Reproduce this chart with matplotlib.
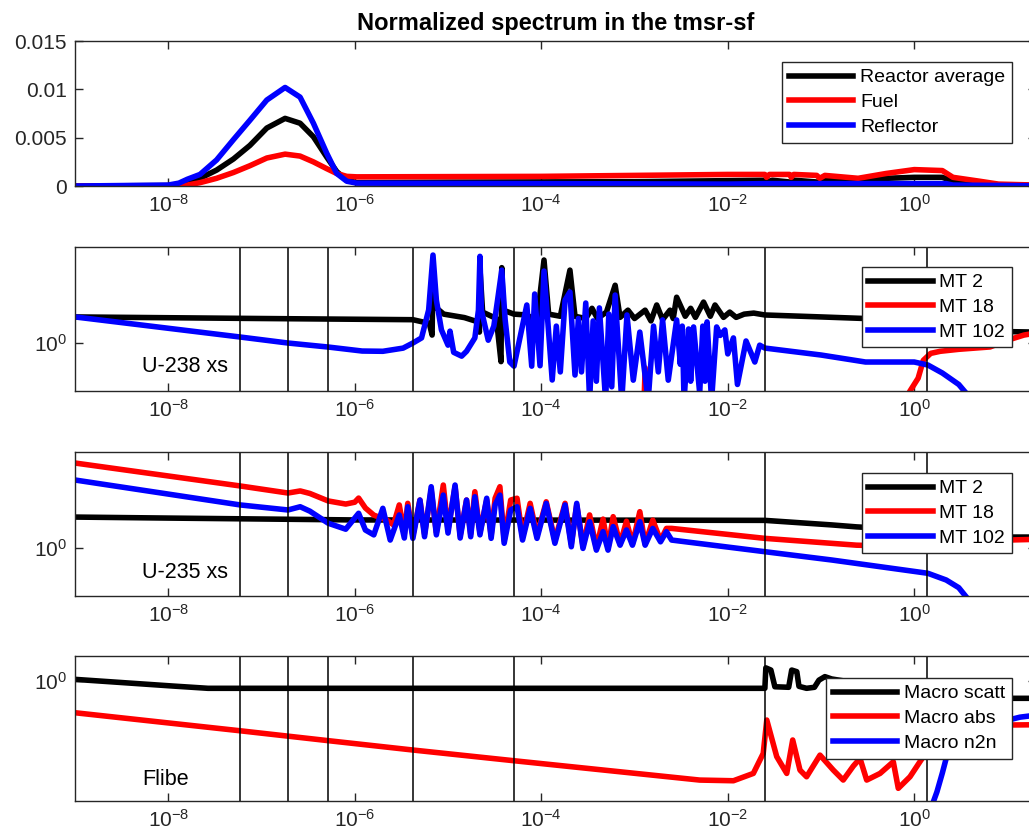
import matplotlib
matplotlib.use("Agg")
import matplotlib.pyplot as plt
from matplotlib.ticker import FixedLocator, FixedFormatter, NullLocator

plt.rcParams['font.family'] = ['Liberation Sans', 'DejaVu Sans']
plt.rcParams['mathtext.fontset'] = 'custom'
plt.rcParams['mathtext.rm'] = 'Liberation Sans'
plt.rcParams['mathtext.it'] = 'Liberation Sans:italic'
plt.rcParams['mathtext.bf'] = 'Liberation Sans:bold'

# ---- data: (energy [MeV], value) ----
# normalized spectrum
spec_avg = [(1e-9, 0), (1e-8, 0.00005), (1.6e-8, 0.0002), (2.19e-8, 0.0008), (3.3e-8, 0.00165),
            (5.0e-8, 0.0028), (7.5e-8, 0.0042), (1.14e-7, 0.0060), (1.79e-7, 0.0070), (2.59e-7, 0.0065),
            (3.6e-7, 0.0051), (5.0e-7, 0.0030), (6.4e-7, 0.0015), (8.2e-7, 0.0006), (1.05e-6, 0.00035),
            (1e-5, 0.0004), (1e-3, 0.00045), (0.025, 0.0006), (0.026, 0.0004), (0.03, 0.0006),
            (0.048, 0.0004), (0.052, 0.0006), (0.095, 0.0004), (0.11, 0.0006), (0.25, 0.0004),
            (0.5, 0.0008), (1.0, 0.0009), (2.0, 0.0009), (2.6, 0.0005), (5, 0.0002), (10, 0.0001),
            (20, 0.00005)]
spec_fuel = [(1e-9, 0), (1e-8, 0.00003), (1.6e-8, 0.0001), (2.19e-8, 0.00035), (3.3e-8, 0.0008),
             (5.0e-8, 0.0014), (7.5e-8, 0.0021), (1.14e-7, 0.0029), (1.79e-7, 0.0033), (2.59e-7, 0.0031),
             (3.6e-7, 0.0025), (5.0e-7, 0.0018), (6.4e-7, 0.0013), (8.2e-7, 0.0010), (1.05e-6, 0.00095),
             (1e-4, 0.001), (1e-2, 0.0012), (0.025, 0.0012), (0.026, 0.0009), (0.028, 0.0012),
             (0.046, 0.0012), (0.048, 0.0009), (0.051, 0.0012), (0.09, 0.0011), (0.097, 0.0008),
             (0.11, 0.0011), (0.25, 0.0008), (0.5, 0.0013), (1.0, 0.0017), (2.0, 0.0016), (2.6, 0.0009),
             (5, 0.0005), (8, 0.0002), (20, 0.0001)]
spec_refl = [(1e-9, 0), (1e-8, 0.0001), (1.3e-8, 0.0003), (1.6e-8, 0.0007), (2.19e-8, 0.0012),
             (3.3e-8, 0.0027), (5.0e-8, 0.0048), (7.5e-8, 0.0068), (1.14e-7, 0.0089), (1.79e-7, 0.0102),
             (2.59e-7, 0.0092), (3.6e-7, 0.0065), (5.0e-7, 0.0034), (6.4e-7, 0.0013), (8.2e-7, 0.0005),
             (1.05e-6, 0.0003), (1e-2, 0.0002), (0.025, 0.00025), (2.2, 0.00025), (2.6, 0.0001),
             (20, 0.00003)]

# U-238
u238_mt2 = [(1e-9, 1.87), (1e-7, 1.80), (4.2e-6, 1.75), (6.3e-6, 1.60), (6.75e-6, 1.21), (6.9e-6, 6.0),
            (7.2e-6, 2.4), (9e-6, 2.0), (1.5e-5, 1.84), (2.1e-5, 1.66), (2.17e-5, 1.30), (2.2e-5, 6.0),
            (2.35e-5, 2.1), (3.3e-5, 1.8), (3.7e-5, 0.64), (3.77e-5, 6.1), (3.9e-5, 2.2), (5.1e-5, 2.0),
            (7.0e-5, 1.96), (9.0e-5, 1.7), (1.07e-4, 7.33), (1.2e-4, 2.0), (1.6e-4, 1.9), (2.03e-4, 5.75),
            (2.3e-4, 1.9), (3.0e-4, 1.8), (3.5e-4, 2.3), (4.0e-4, 1.8), (5.0e-4, 2.1), (6.2e-4, 4.0),
            (7.0e-4, 1.85), (8.5e-4, 2.2), (1.0e-3, 1.8), (1.3e-3, 2.2), (1.5e-3, 1.7), (1.73e-3, 2.49),
            (2.0e-3, 1.75), (2.4e-3, 2.2), (2.6e-3, 1.8), (2.83e-3, 3.0), (3.5e-3, 1.9), (4.0e-3, 2.3),
            (4.5e-3, 1.85), (5.5e-3, 2.67), (6.5e-3, 1.9), (7.3e-3, 2.49), (9.0e-3, 1.85), (1.05e-2, 2.1),
            (1.23e-2, 1.85), (1.5e-2, 2.0), (1.9e-2, 2.05), (2.5e-2, 1.96), (0.1, 1.87), (0.3, 1.80),
            (1.0, 1.70), (2.0, 1.50), (5.0, 1.33), (20, 1.30)]
u238_mt18 = [(1e-9, 0.05), (1.2e-3, 0.05), (1.3e-3, 0.55), (1.4e-3, 0.05), (0.7, 0.2), (0.9, 0.316),
             (1.1, 0.43), (1.25, 0.66), (1.5, 0.78), (1.9, 0.82), (3.0, 0.86), (6.5, 0.91), (10, 1.07),
             (15, 1.21), (20, 1.27)]
u238_mt102 = [(1e-9, 1.87), (5.9e-8, 1.155), (1.92e-7, 1.0), (5.2e-7, 0.908), (1.2e-6, 0.825),
              (2.0e-6, 0.82), (3.3e-6, 0.885), (4.2e-6, 1.0), (5.2e-6, 1.13), (6.2e-6, 2.21),
              (6.9e-6, 8.25), (7.5e-6, 2.8), (8.5e-6, 1.37), (1.0e-5, 0.95), (1.05e-5, 1.33),
              (1.15e-5, 0.8), (1.4e-5, 0.73), (1.58e-5, 0.82), (1.94e-5, 1.13), (2.12e-5, 2.2),
              (2.2e-5, 8.0), (2.28e-5, 2.2), (2.7e-5, 1.07), (3.1e-5, 1.5), (3.4e-5, 2.8), (3.77e-5, 5.75),
              (4.1e-5, 1.74), (4.6e-5, 0.634), (5.1e-5, 0.574), (7.0e-5, 2.49), (7.9e-5, 0.574),
              (8.5e-5, 3.24), (9.7e-5, 0.58), (1.07e-4, 5.62), (1.31e-4, 0.412), (1.45e-4, 1.5),
              (1.6e-4, 0.5), (1.8e-4, 2.8), (2.03e-4, 3.40), (2.3e-4, 0.464), (2.5e-4, 1.8), (2.7e-4, 0.5),
              (3.0e-4, 2.61), (3.3e-4, 0.25), (3.6e-4, 1.7), (3.9e-4, 0.4), (4.2e-4, 2.32), (4.9e-4, 0.25),
              (5.3e-4, 2.0), (5.7e-4, 0.35), (6.2e-4, 3.16), (7.3e-4, 0.25), (8.3e-4, 1.96), (9.7e-4, 0.41),
              (1.14e-3, 1.30), (1.4e-3, 0.25), (1.6e-3, 1.5), (1.8e-3, 0.5), (2.0e-3, 1.74), (2.3e-3, 0.41),
              (2.83e-3, 1.74), (3.1e-3, 0.6), (3.25e-3, 1.5), (3.4e-3, 0.25), (3.8e-3, 1.4), (4.0e-3, 0.4),
              (4.3e-3, 1.47), (5.0e-3, 0.3), (5.4e-3, 1.5), (5.7e-3, 0.4), (6.0e-3, 1.66), (6.7e-3, 0.25),
              (7.6e-3, 1.47), (8.3e-3, 1.2), (9.3e-3, 1.37), (1.0e-2, 0.77), (1.15e-2, 1.13),
              (1.27e-2, 0.37), (1.57e-2, 1.05), (1.95e-2, 0.634), (2.2e-2, 0.95), (2.5e-2, 0.886),
              (0.1, 0.75), (0.3, 0.634), (1.0, 0.634), (1.4, 0.59), (2.0, 0.487), (3.0, 0.37), (3.5, 0.31)]

# U-235
u235_mt2 = [(1e-9, 2.10), (1e-8, 2.05), (1e-6, 1.96), (1e-3, 1.95), (0.025, 1.94), (0.13, 1.74),
            (0.24, 1.66), (1.0, 1.54), (3.0, 1.42), (10, 1.30), (20, 1.30)]
u235_mt18 = [(1e-9, 7.68), (5.9e-8, 4.43), (1.92e-7, 3.74), (2.6e-7, 3.93), (3.3e-7, 3.7), (5.2e-7, 3.09),
             (8.0e-7, 2.87), (1.0e-6, 3.0), (1.1e-6, 3.31), (1.3e-6, 2.61), (1.6e-6, 2.2), (2.2e-6, 1.96),
             (2.6e-6, 1.74), (3.0e-6, 2.81), (3.4e-6, 1.4), (3.7e-6, 2.92), (4.2e-6, 1.35), (5.0e-6, 3.16),
             (5.6e-6, 1.4), (6.6e-6, 4.0), (7.5e-6, 1.45), (8.9e-6, 4.53), (1.0e-5, 1.55), (1.19e-5, 4.35),
             (1.35e-5, 1.35), (1.58e-5, 3.16), (1.75e-5, 1.4), (1.94e-5, 3.86), (2.2e-5, 1.45),
             (2.6e-5, 3.16), (2.9e-5, 1.35), (3.2e-5, 3.3), (3.6e-5, 4.35), (4.0e-5, 1.2), (4.7e-5, 3.16),
             (5.5e-5, 3.30), (6.3e-5, 1.3), (7.6e-5, 2.92), (9.0e-5, 1.35), (1.13e-4, 3.03), (1.4e-4, 1.2),
             (1.8e-4, 2.92), (2.1e-4, 1.1), (2.4e-4, 2.81), (2.8e-4, 1.05), (3.3e-4, 2.21), (3.9e-4, 1.0),
             (4.6e-4, 2.0), (5.2e-4, 1.0), (5.9e-4, 2.12), (7.0e-4, 1.1), (8.2e-4, 1.9), (9.5e-4, 1.1),
             (1.14e-3, 2.39), (1.3e-3, 1.1), (1.57e-3, 1.95), (1.9e-3, 1.2), (2.2e-3, 1.6), (2.5e-3, 1.60),
             (0.025, 1.26), (0.24, 1.07), (1.0, 1.03), (3.0, 1.12), (10, 1.21), (20, 1.23)]
u235_mt102 = [(1e-9, 5.11), (5.9e-8, 2.81), (1.92e-7, 2.49), (2.6e-7, 2.69), (3.3e-7, 2.42), (5.2e-7, 1.81),
              (8.0e-7, 1.57), (1.1e-6, 2.30), (1.3e-6, 1.54), (1.6e-6, 1.37), (2.0e-6, 2.59), (2.4e-6, 1.21),
              (3.0e-6, 2.21), (3.4e-6, 1.27), (3.7e-6, 2.69), (4.2e-6, 1.26), (5.0e-6, 3.16), (5.6e-6, 1.31),
              (6.6e-6, 4.35), (7.5e-6, 1.37), (8.9e-6, 3.56), (1.0e-5, 1.43), (1.19e-5, 4.53),
              (1.35e-5, 1.27), (1.58e-5, 3.16), (1.75e-5, 1.31), (1.94e-5, 3.42), (2.2e-5, 1.37),
              (2.6e-5, 3.30), (2.9e-5, 1.26), (3.2e-5, 2.81), (3.6e-5, 3.56), (4.0e-5, 1.12), (4.7e-5, 2.49),
              (5.5e-5, 2.69), (6.3e-5, 1.21), (7.6e-5, 2.59), (9.0e-5, 1.26), (1.13e-4, 2.92), (1.4e-4, 1.12),
              (1.8e-4, 2.81), (2.1e-4, 1.03), (2.4e-4, 2.92), (2.8e-4, 0.99), (3.3e-4, 1.88), (3.9e-4, 0.95),
              (4.6e-4, 1.48), (5.2e-4, 0.95), (5.9e-4, 1.67), (7.0e-4, 1.07), (8.2e-4, 1.54), (9.5e-4, 1.07),
              (1.14e-3, 1.88), (1.3e-3, 1.07), (1.57e-3, 1.60), (1.9e-3, 1.16), (2.2e-3, 1.48),
              (2.5e-3, 1.21), (0.025, 0.915), (0.13, 0.75), (1.4, 0.545), (2.2, 0.464), (3.0, 0.386),
              (3.6, 0.31)]

# Flibe
flibe_scatt = [(1e-9, 1.04), (1.12e-8, 0.886), (2.67e-8, 0.839), (0.0250, 0.839), (0.0256, 1.37),
               (0.0290, 1.30), (0.0320, 0.871), (0.045, 0.86), (0.0485, 1.30), (0.055, 1.25), (0.058, 0.88),
               (0.070, 0.839), (0.085, 0.86), (0.095, 1.02), (0.11, 1.11), (0.13, 1.05), (0.5, 0.85),
               (1.0, 0.78), (2.0, 0.70), (5.0, 0.66), (20, 0.66)]
flibe_abs = [(1e-9, 0.467), (5.9e-8, 0.303), (5.2e-7, 0.239), (4.2e-6, 0.191), (5e-5, 0.148),
             (5.0e-3, 0.0929), (1.15e-2, 0.0914), (1.88e-2, 0.109), (0.024, 0.176), (0.0262, 0.392),
             (0.0335, 0.163), (0.0429, 0.109), (0.0497, 0.243), (0.0595, 0.118), (0.070, 0.1006),
             (0.0975, 0.169), (0.1355, 0.118), (0.173, 0.0929), (0.222, 0.13), (0.262, 0.156),
             (0.309, 0.0929), (0.43, 0.109), (0.596, 0.144), (0.674, 0.0762), (0.90, 0.1006),
             (1.25, 0.163), (1.6, 0.22), (3.0, 0.30), (10, 0.348), (20, 0.35)]
flibe_n2n = [(1.5, 0.01), (1.60, 0.055), (1.75, 0.07), (2.0, 0.11), (2.25, 0.17), (3.0, 0.25),
             (5.0, 0.32), (10, 0.39), (13.6, 0.42), (20, 0.44)]

group_bounds = [5.9e-8, 1.92e-7, 5.2e-7, 4.2e-6, 5.1e-5, 0.0251, 1.37]

xticks = [1e-8, 1e-6, 1e-4, 1e-2, 1e0]
xlabels = [r'$\mathregular{10^{-8}}$', r'$\mathregular{10^{-6}}$', r'$\mathregular{10^{-4}}$',
           r'$\mathregular{10^{-2}}$', r'$\mathregular{10^{0}}$']

DARK = '#262626'
LW = 4.0

fig = plt.figure(figsize=(10.29, 8.38), dpi=100)

# axes go a little past the right edge, like the cropped original
left, width = 0.0729, 0.9335
rects = [(left, 0.778, width, 0.173), (left, 0.5334, width, 0.1718),
         (left, 0.2888, width, 0.1718), (left, 0.04415, width, 0.173)]
axs = [fig.add_axes(r) for r in rects]


def style(ax):
    ax.set_xscale('log')
    ax.set_xlim(1e-9, 20)
    ax.xaxis.set_major_locator(FixedLocator(xticks))
    ax.xaxis.set_major_formatter(FixedFormatter(xlabels))
    ax.xaxis.set_minor_locator(NullLocator())
    ax.tick_params(direction='in', length=6, width=1, top=True, right=True,
                   labelsize=15, colors=DARK, pad=6)
    for s in ax.spines.values():
        s.set_color(DARK)
        s.set_linewidth(1.0)


def legend(ax, labels, y):
    lg = ax.legend(labels, loc='upper right', bbox_to_anchor=(0.9754, y), fontsize=14,
                   fancybox=False, edgecolor=DARK, framealpha=1, handlelength=3.3,
                   handletextpad=0.35, labelspacing=0.36, borderpad=0.35, borderaxespad=0)
    lg.get_frame().set_linewidth(1.0)


def draw(ax, data, color):
    e, v = zip(*data)
    ax.plot(e, v, color=color, lw=LW)


# panel 1: spectrum
ax = axs[0]
draw(ax, spec_avg, 'k')
draw(ax, spec_fuel, 'r')
draw(ax, spec_refl, 'b')
style(ax)
ax.set_ylim(0, 0.015)
ax.yaxis.set_major_locator(FixedLocator([0, 0.005, 0.01, 0.015]))
ax.yaxis.set_major_formatter(FixedFormatter(['0', '0.005', '0.01', '0.015']))
legend(ax, ['Reactor average', 'Fuel', 'Reflector'], 0.855)
ax.set_title('Normalized spectrum in the tmsr-sf', fontsize=17, fontweight='bold', pad=8)

# panels 2-4: cross sections
panels = [
    (axs[1], [u238_mt2, u238_mt18, u238_mt102], ['MT 2', 'MT 18', 'MT 102'], 'U-238 xs',
     (10 ** -0.5, 10 ** 1.0), 0.861, 0.167),
    (axs[2], [u235_mt2, u235_mt18, u235_mt102], ['MT 2', 'MT 18', 'MT 102'], 'U-235 xs',
     (10 ** -0.5, 10 ** 1.0), 0.854, 0.16),
    (axs[3], [flibe_scatt, flibe_abs, flibe_n2n], ['Macro scatt', 'Macro abs', 'Macro n2n'], 'Flibe',
     (10 ** -1.25, 10 ** 0.26), 0.848, 0.145),
]
for ax, curves, labels, name, ylim, ly, ty in panels:
    for data, c in zip(curves, ['k', 'r', 'b']):
        draw(ax, data, c)
    style(ax)
    ax.set_yscale('log')
    ax.set_ylim(*ylim)
    ax.yaxis.set_major_locator(FixedLocator([1.0]))
    ax.yaxis.set_major_formatter(FixedFormatter([r'$\mathregular{10^{0}}$']))
    ax.yaxis.set_minor_locator(NullLocator())
    ax.tick_params(direction='in', length=6, width=1, top=True, right=True,
                   labelsize=15, colors=DARK, pad=6)
    for b in group_bounds:
        ax.axvline(b, color='k', lw=1.1)
    legend(ax, labels, ly)
    ax.text(0.0697, ty, name, transform=ax.transAxes, fontsize=15.5, va='center', color='k')

fig.savefig('out.png', dpi=100)
